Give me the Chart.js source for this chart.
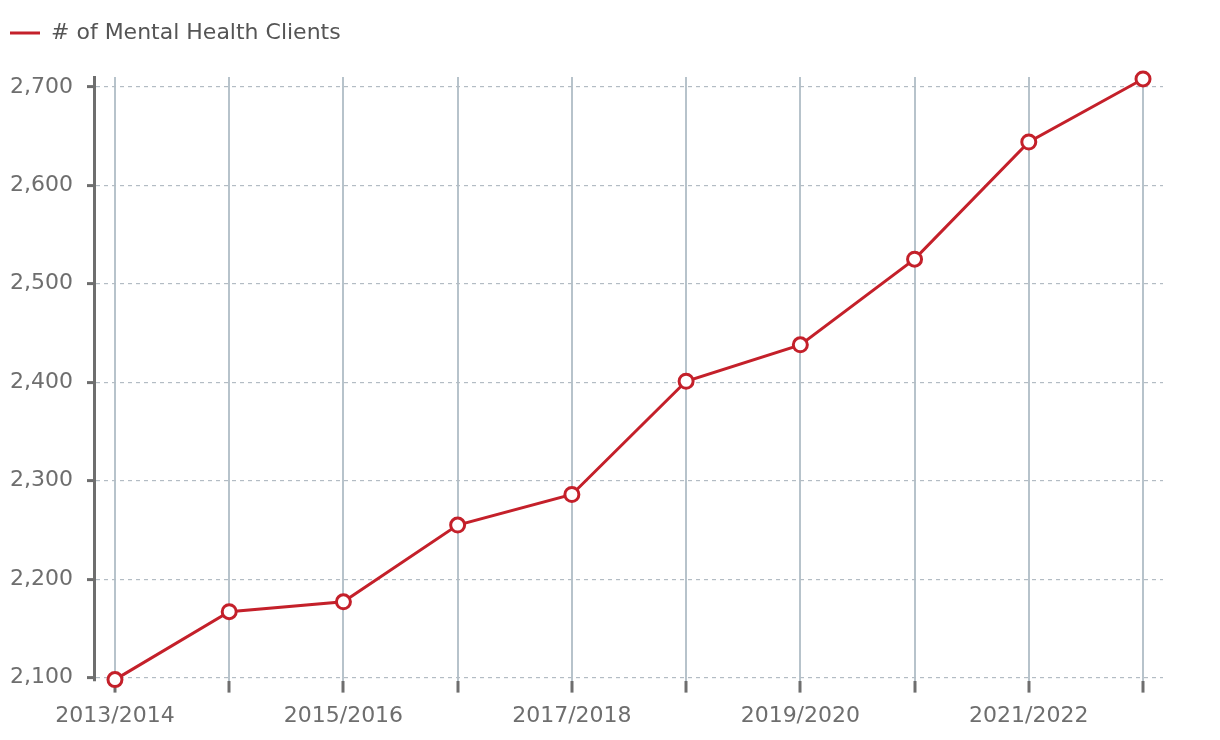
<!DOCTYPE html>
<html>
<head>
<meta charset="utf-8">
<script src="https://cdn.jsdelivr.net/npm/chart.js@4"></script>
<style>
    html, body { margin: 0; padding: 0; background: #ffffff; }
    #wrap { width: 1220px; height: 740px; position: relative; }
</style>
</head>
<body>
<div id="wrap"><canvas id="clientes"></canvas></div>
<script>
// datos
var anios = ['2013/2014', '2014/2015', '2015/2016', '2016/2017', '2017/2018',
    '2018/2019', '2019/2020', '2020/2021', '2021/2022', '2022/2023'];
var clientes = [2098, 2167, 2177, 2255, 2286, 2401, 2438, 2525, 2644, 2708];
var serie = '# of Mental Health Clients';

var rojo = '#c4202a';
var gris = '#6e6e6e';
var fuente = 'DejaVu Sans';

var puntos = [];
for (var i = 0; i < clientes.length; i++) {
    puntos.push({ x: i, y: clientes[i] });
}

// espacio debajo de la leyenda
var espacioLeyenda = {
    id: 'espacioLeyenda',
    beforeInit: function (chart) {
        var fit = chart.legend.fit;
        chart.legend.fit = function () {
            fit.bind(chart.legend)();
            this.height += 23;
        };
    }
};

var mostrar = document.getElementById('clientes');
var grafico = new Chart(mostrar, {
    type: 'line',
    data: {
        datasets: [{
            label: serie,
            data: puntos,
            borderColor: rojo,
            backgroundColor: rojo,
            borderWidth: 3,
            pointRadius: 7,
            pointBorderWidth: 3,
            pointBackgroundColor: '#ffffff',
            pointBorderColor: rojo,
            tension: 0,
            clip: false
        }]
    },
    plugins: [espacioLeyenda],
    options: {
        responsive: true,
        maintainAspectRatio: false,
        animation: false,
        layout: {
            padding: { left: -4, right: 57, top: 8, bottom: 1 }
        },
        plugins: {
            legend: {
                display: true,
                position: 'top',
                align: 'start',
                labels: {
                    usePointStyle: true,
                    pointStyle: 'line',
                    pointStyleWidth: 30,
                    color: '#555555',
                    padding: 14,
                    font: { family: fuente, size: 22 }
                }
            },
            tooltip: { enabled: false }
        },
        scales: {
            x: {
                type: 'linear',
                min: -0.175,
                max: clientes.length - 1 + 0.175,
                afterBuildTicks: function (axis) {
                    axis.ticks = anios.map(function (a, i) { return { value: i }; });
                },
                border: { display: false },
                grid: {
                    color: '#b7c3cb',
                    lineWidth: 2,
                    tickColor: gris,
                    tickLength: 12,
                    tickWidth: 3
                },
                ticks: {
                    autoSkip: false,
                    maxRotation: 0,
                    color: gris,
                    padding: 10,
                    font: { family: fuente, size: 22 },
                    callback: function (value) {
                        var i = Math.round(value);
                        return i % 2 === 0 ? anios[i] : '';
                    }
                }
            },
            y: {
                min: 2097,
                max: 2710,
                afterBuildTicks: function (axis) {
                    var t = [];
                    for (var v = Math.ceil(axis.min / 100) * 100; v <= axis.max; v += 100) {
                        t.push({ value: v });
                    }
                    axis.ticks = t;
                },
                border: { display: true, color: gris, width: 3, dash: [4, 4] },
                grid: {
                    color: '#b3bcc4',
                    lineWidth: 1.2,
                    tickColor: gris,
                    tickLength: 8,
                    tickWidth: 3
                },
                ticks: {
                    color: gris,
                    padding: 14,
                    font: { family: fuente, size: 22 },
                    callback: function (value) {
                        return value.toLocaleString('en-US');
                    }
                }
            }
        }
    }
});
</script>
</body>
</html>
